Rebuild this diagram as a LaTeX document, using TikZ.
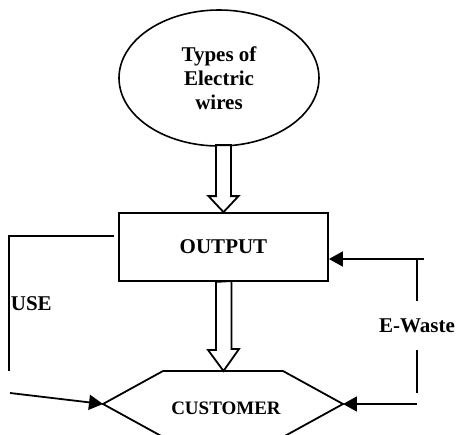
\documentclass[tikz,border=0pt]{standalone}
\usepackage{fontspec}
\setmainfont{Liberation Serif}
\usetikzlibrary{shapes.geometric,arrows.meta,calc}

\begin{document}
\begin{tikzpicture}[x=0.5pt, y=-0.5pt, line width=0.9pt,
    txt/.style={font=\fontsize{10.5}{12}\selectfont\bfseries, align=center},
    hollow/.style={fill=white, line join=miter},
    arrowline/.style={-{Triangle[length=7pt,width=7.5pt]}}]
  \useasboundingbox (0,0) rectangle (457,435);
  \node[ellipse, draw, line width=0.8pt, minimum width=100pt, minimum height=68pt, inner sep=0pt, txt]
    (types) at (219,78) {Types of\\Electric\\wires};
  \node[draw, minimum width=104.5pt, minimum height=34pt, txt]
    (output) at (223.5,247) {OUTPUT};
  % customer hexagon
  \coordinate (custW) at (103,404);
  \coordinate (custE) at (343,404);
  \coordinate (custN) at (223.5,371);
  \draw (163,371) -- (283,371) -- (custE) -- (283,437) -- (163,437) -- (custW) -- cycle;
  \node[txt, font=\fontsize{9.5}{11}\selectfont\bfseries] (cust) at (226,408) {CUSTOMER};
  % hollow arrows
  \draw[hollow] ($(output.north)+(-7.5,-67)$) -- ++(0,51) -- ++(-7.5,0) -- (output.north)
    -- ++(15,-16) -- ++(-7.5,0) -- ++(0,-51) -- cycle;
  \draw[hollow] ($(output.south)+(-7.5,0)$) -- ++(0,68) -- ++(-8,0) -- (custN)
    -- ++(15.5,-22) -- ++(-7.5,0) -- ++(0,-68) -- cycle;
  % use loop
  \draw ([xshift=-2pt,yshift=5.5pt]output.west) -- ++(-105,0) -- ++(0,135);
  \node[txt, anchor=west, inner sep=0pt] (use) at (10,304) {USE};
  \coordinate (useIn) at (10,393);
  \draw[arrowline] (useIn) -- (custW);
  % e-waste loop
  \coordinate (ewTop) at (424,259);
  \draw[arrowline] (ewTop) -- (ewTop -| output.east);
  \node[txt, minimum height=23.5pt, inner sep=0pt] (ewaste) at (417,325.5) {E-Waste};
  \draw (417,259) -- (ewaste) -- (417,393);
  \coordinate (ewBot) at (417,404);
  \draw[arrowline] (ewBot) -- (custE);
\end{tikzpicture}
\end{document}
